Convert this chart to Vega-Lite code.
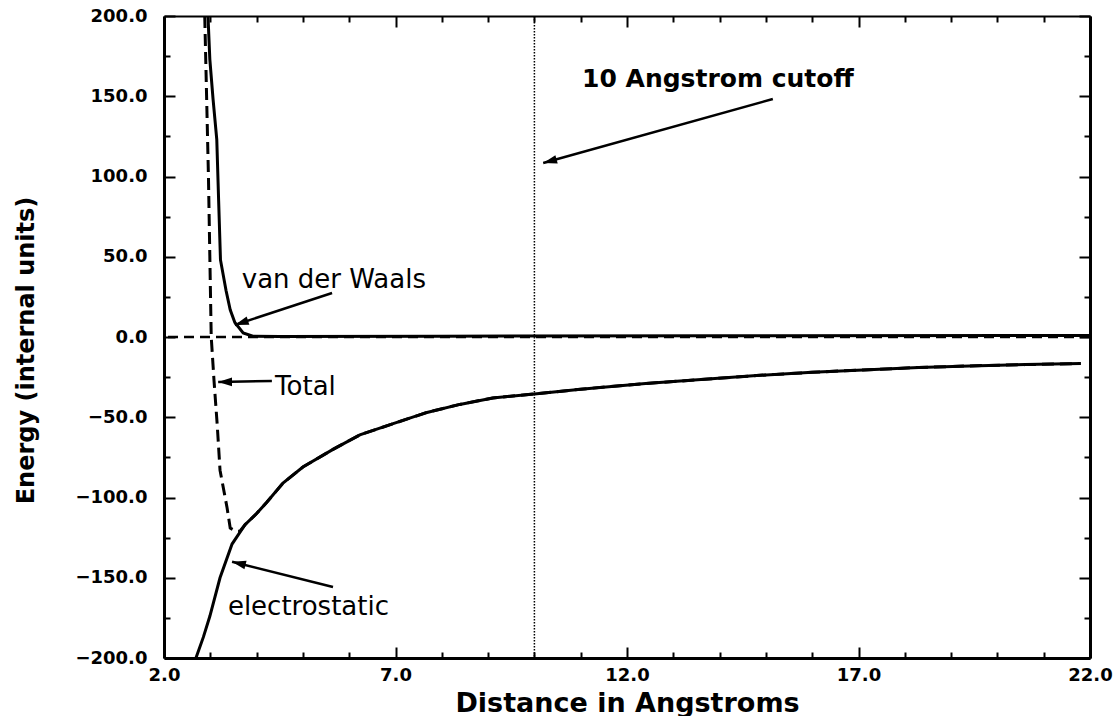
{
  "$schema": "https://vega.github.io/schema/vega-lite/v6.json",
  "width": 926,
  "height": 642,
  "autosize": "none",
  "padding": {"left": 164, "top": 16, "right": 27, "bottom": 58},
  "background": "white",
  "config": {
    "view": {"stroke": null},
    "axis": {
      "grid": false,
      "domainColor": "black",
      "domainWidth": 3,
      "tickColor": "black",
      "tickWidth": 2,
      "labelFont": "DejaVu Sans",
      "labelFontWeight": "bold",
      "labelFontSize": 18,
      "labelColor": "black",
      "labelFlush": false,
      "labelOverlap": false,
      "titleFont": "DejaVu Sans",
      "titleFontWeight": "bold",
      "titleFontSize": 27,
      "titleColor": "black"
    }
  },
  "datasets": {
    "curves": [
      {"series": "electrostatic", "r": 2.69, "E": -200},
      {"series": "electrostatic", "r": 2.85, "E": -187},
      {"series": "electrostatic", "r": 2.99, "E": -174},
      {"series": "electrostatic", "r": 3.21, "E": -150},
      {"series": "electrostatic", "r": 3.47, "E": -129},
      {"series": "electrostatic", "r": 3.75, "E": -117},
      {"series": "electrostatic", "r": 4.0, "E": -110},
      {"series": "electrostatic", "r": 4.22, "E": -103},
      {"series": "electrostatic", "r": 4.57, "E": -91},
      {"series": "electrostatic", "r": 5.0, "E": -81},
      {"series": "electrostatic", "r": 5.65, "E": -70},
      {"series": "electrostatic", "r": 6.23, "E": -61},
      {"series": "electrostatic", "r": 6.95, "E": -54},
      {"series": "electrostatic", "r": 7.68, "E": -47},
      {"series": "electrostatic", "r": 8.39, "E": -42},
      {"series": "electrostatic", "r": 9.1, "E": -38},
      {"series": "electrostatic", "r": 10.0, "E": -35.5},
      {"series": "electrostatic", "r": 11.0, "E": -32.5},
      {"series": "electrostatic", "r": 12.4, "E": -29},
      {"series": "electrostatic", "r": 13.6, "E": -26.5},
      {"series": "electrostatic", "r": 14.8, "E": -24},
      {"series": "electrostatic", "r": 16.0, "E": -22},
      {"series": "electrostatic", "r": 17.1, "E": -20.5},
      {"series": "electrostatic", "r": 18.3, "E": -19},
      {"series": "electrostatic", "r": 19.4, "E": -18},
      {"series": "electrostatic", "r": 20.6, "E": -17.2},
      {"series": "electrostatic", "r": 21.8, "E": -16.5},
      {"series": "vdw", "r": 2.95, "E": 200},
      {"series": "vdw", "r": 2.99, "E": 173},
      {"series": "vdw", "r": 3.06, "E": 148},
      {"series": "vdw", "r": 3.14, "E": 123},
      {"series": "vdw", "r": 3.18, "E": 85},
      {"series": "vdw", "r": 3.22, "E": 48},
      {"series": "vdw", "r": 3.34, "E": 29},
      {"series": "vdw", "r": 3.43, "E": 17},
      {"series": "vdw", "r": 3.53, "E": 9},
      {"series": "vdw", "r": 3.71, "E": 2.5},
      {"series": "vdw", "r": 3.92, "E": 0.5},
      {"series": "vdw", "r": 4.5, "E": 0.3},
      {"series": "vdw", "r": 8.0, "E": 0.5},
      {"series": "vdw", "r": 14.0, "E": 0.8},
      {"series": "vdw", "r": 22.0, "E": 1},
      {"series": "total", "r": 2.88, "E": 200},
      {"series": "total", "r": 2.92, "E": 150},
      {"series": "total", "r": 2.96, "E": 100},
      {"series": "total", "r": 2.99, "E": 50},
      {"series": "total", "r": 3.02, "E": 0},
      {"series": "total", "r": 3.08, "E": -27},
      {"series": "total", "r": 3.15, "E": -55},
      {"series": "total", "r": 3.21, "E": -83},
      {"series": "total", "r": 3.36, "E": -106},
      {"series": "total", "r": 3.43, "E": -119},
      {"series": "total", "r": 3.55, "E": -121},
      {"series": "total", "r": 3.64, "E": -121},
      {"series": "total", "r": 3.75, "E": -117},
      {"series": "total", "r": 4.0, "E": -110},
      {"series": "total", "r": 4.22, "E": -103},
      {"series": "total", "r": 4.57, "E": -91},
      {"series": "total", "r": 5.0, "E": -81},
      {"series": "total", "r": 5.65, "E": -70},
      {"series": "total", "r": 6.23, "E": -61},
      {"series": "total", "r": 6.95, "E": -54},
      {"series": "total", "r": 7.68, "E": -47},
      {"series": "total", "r": 8.39, "E": -42},
      {"series": "total", "r": 9.1, "E": -38},
      {"series": "total", "r": 10.0, "E": -35.5},
      {"series": "total", "r": 11.0, "E": -32.5},
      {"series": "total", "r": 12.4, "E": -29},
      {"series": "total", "r": 13.6, "E": -26.5},
      {"series": "total", "r": 14.8, "E": -24},
      {"series": "total", "r": 16.0, "E": -22},
      {"series": "total", "r": 17.1, "E": -20.5},
      {"series": "total", "r": 18.3, "E": -19},
      {"series": "total", "r": 19.4, "E": -18},
      {"series": "total", "r": 20.6, "E": -17.2},
      {"series": "total", "r": 21.8, "E": -16.5}
    ],
    "notes": [
      {"label": "10 Angstrom cutoff", "kind": "bold", "r": 11.03, "E": 155.8},
      {"label": "van der Waals", "kind": "plain", "r": 3.68, "E": 30.5},
      {"label": "Total", "kind": "plain", "r": 4.4, "E": -36},
      {"label": "electrostatic", "kind": "plain", "r": 3.38, "E": -173}
    ],
    "arrows": [
      {"id": "total", "step": 0, "r": 4.33, "E": -27.4},
      {"id": "total", "step": 1, "r": 3.17, "E": -28},
      {"id": "vdw", "step": 0, "r": 5.63, "E": 27.4},
      {"id": "vdw", "step": 1, "r": 3.53, "E": 7.5},
      {"id": "elec", "step": 0, "r": 5.65, "E": -155.8},
      {"id": "elec", "step": 1, "r": 3.47, "E": -140},
      {"id": "cutoff", "step": 0, "r": 15.15, "E": 148.3},
      {"id": "cutoff", "step": 1, "r": 10.19, "E": 108.4}
    ]
  },
  "layer": [
    {
      "data": {"values": [{"E": 0}]},
      "mark": {"type": "rule", "color": "black", "strokeWidth": 2.5, "strokeDash": [10, 6]},
      "encoding": {
        "y": {"field": "E", "type": "quantitative", "scale": {"domain": [-200, 200], "nice": false, "zero": false}, "axis": null}
      }
    },
    {
      "data": {"values": [{"r": 10}]},
      "mark": {"type": "rule", "color": "black", "strokeWidth": 1.5, "strokeDash": [1.5, 1.5]},
      "encoding": {
        "x": {"field": "r", "type": "quantitative", "scale": {"domain": [2, 22], "nice": false, "zero": false}, "axis": null}
      }
    },
    {
      "data": {"name": "curves"},
      "transform": [{"filter": "datum.series === 'electrostatic'"}],
      "mark": {"type": "line", "color": "black", "strokeWidth": 3, "clip": true},
      "encoding": {
        "x": {
          "field": "r", "type": "quantitative",
          "scale": {"domain": [2, 22], "nice": false, "zero": false},
          "axis": {
            "orient": "bottom",
            "values": [2,3,4,5,6,7,8,9,10,11,12,13,14,15,16,17,18,19,20,21,22],
            "labelExpr": "(datum.value - 2) % 5 === 0 ? format(datum.value, '.1f') : ''",
            "tickSize": {"condition": {"test": "(datum.value - 2) % 5 === 0", "value": -11}, "value": -6},
            "labelPadding": 19,
            "title": "Distance in Angstroms",
            "titleY": 53,
            "titleBaseline": "alphabetic"
          }
        },
        "y": {
          "field": "E", "type": "quantitative",
          "scale": {"domain": [-200, 200], "nice": false, "zero": false},
          "axis": {
            "orient": "left",
            "values": [-200,-175,-150,-125,-100,-75,-50,-25,0,25,50,75,100,125,150,175,200],
            "labelExpr": "datum.value % 50 === 0 ? format(datum.value, '.1f') : ''",
            "tickSize": {"condition": {"test": "datum.value % 50 === 0", "value": -11}, "value": -6},
            "labelPadding": 28,
            "title": "Energy (internal units)",
            "titleFontSize": 24,
            "titleX": -126,
            "titleY": 334,
            "titleBaseline": "bottom"
          }
        },
        "order": {"field": "r", "type": "quantitative"}
      }
    },
    {
      "data": {"name": "curves"},
      "transform": [{"filter": "datum.series === 'vdw'"}],
      "mark": {"type": "line", "color": "black", "strokeWidth": 3, "clip": true},
      "encoding": {
        "x": {
          "field": "r", "type": "quantitative",
          "scale": {"domain": [2, 22], "nice": false, "zero": false},
          "axis": {
            "orient": "top",
            "values": [2,3,4,5,6,7,8,9,10,11,12,13,14,15,16,17,18,19,20,21,22],
            "labels": false,
            "domainWidth": 2,
            "tickSize": {"condition": {"test": "(datum.value - 2) % 5 === 0", "value": -11}, "value": -6},
            "title": null
          }
        },
        "y": {
          "field": "E", "type": "quantitative",
          "scale": {"domain": [-200, 200], "nice": false, "zero": false},
          "axis": {
            "orient": "right",
            "values": [-200,-175,-150,-125,-100,-75,-50,-25,0,25,50,75,100,125,150,175,200],
            "labels": false,
            "tickSize": {"condition": {"test": "datum.value % 50 === 0", "value": -11}, "value": -6},
            "title": null
          }
        },
        "order": {"field": "r", "type": "quantitative"}
      }
    },
    {
      "data": {"name": "curves"},
      "transform": [{"filter": "datum.series === 'total'"}],
      "mark": {"type": "line", "color": "black", "strokeWidth": 3, "strokeDash": [12, 6], "clip": true},
      "encoding": {
        "x": {"field": "r", "type": "quantitative", "axis": null},
        "y": {"field": "E", "type": "quantitative", "axis": null},
        "order": {"field": "r", "type": "quantitative"}
      }
    },
    {
      "data": {"name": "arrows"},
      "mark": {"type": "line", "color": "black", "strokeWidth": 2.5},
      "encoding": {
        "x": {"field": "r", "type": "quantitative", "axis": null},
        "y": {"field": "E", "type": "quantitative", "axis": null},
        "detail": {"field": "id"},
        "order": {"field": "step", "type": "quantitative"}
      }
    },
    {
      "data": {"name": "arrows"},
      "transform": [{"filter": "datum.id === 'total' && datum.step === 1"}],
      "mark": {"type": "point", "shape": "M0,0L1.6,-0.5L1.6,0.5Z", "filled": true, "color": "black", "opacity": 1, "size": 300, "angle": 0},
      "encoding": {
        "x": {"field": "r", "type": "quantitative", "axis": null},
        "y": {"field": "E", "type": "quantitative", "axis": null}
      }
    },
    {
      "data": {"name": "arrows"},
      "transform": [{"filter": "datum.id === 'vdw' && datum.step === 1"}],
      "mark": {"type": "point", "shape": "M0,0L1.6,-0.5L1.6,0.5Z", "filled": true, "color": "black", "opacity": 1, "size": 300, "angle": 342},
      "encoding": {
        "x": {"field": "r", "type": "quantitative", "axis": null},
        "y": {"field": "E", "type": "quantitative", "axis": null}
      }
    },
    {
      "data": {"name": "arrows"},
      "transform": [{"filter": "datum.id === 'elec' && datum.step === 1"}],
      "mark": {"type": "point", "shape": "M0,0L1.6,-0.5L1.6,0.5Z", "filled": true, "color": "black", "opacity": 1, "size": 300, "angle": 14},
      "encoding": {
        "x": {"field": "r", "type": "quantitative", "axis": null},
        "y": {"field": "E", "type": "quantitative", "axis": null}
      }
    },
    {
      "data": {"name": "arrows"},
      "transform": [{"filter": "datum.id === 'cutoff' && datum.step === 1"}],
      "mark": {"type": "point", "shape": "M0,0L1.6,-0.5L1.6,0.5Z", "filled": true, "color": "black", "opacity": 1, "size": 300, "angle": 344.5},
      "encoding": {
        "x": {"field": "r", "type": "quantitative", "axis": null},
        "y": {"field": "E", "type": "quantitative", "axis": null}
      }
    },
    {
      "data": {"name": "notes"},
      "transform": [{"filter": "datum.kind === 'plain'"}],
      "mark": {"type": "text", "align": "left", "baseline": "alphabetic", "font": "DejaVu Sans", "fontSize": 26, "color": "black"},
      "encoding": {
        "x": {"field": "r", "type": "quantitative", "axis": null},
        "y": {"field": "E", "type": "quantitative", "axis": null},
        "text": {"field": "label"}
      }
    },
    {
      "data": {"name": "notes"},
      "transform": [{"filter": "datum.kind === 'bold'"}],
      "mark": {"type": "text", "align": "left", "baseline": "alphabetic", "font": "DejaVu Sans", "fontWeight": "bold", "fontSize": 25, "color": "black"},
      "encoding": {
        "x": {"field": "r", "type": "quantitative", "axis": null},
        "y": {"field": "E", "type": "quantitative", "axis": null},
        "text": {"field": "label"}
      }
    }
  ],
  "resolve": {"axis": {"x": "independent", "y": "independent"}}
}
